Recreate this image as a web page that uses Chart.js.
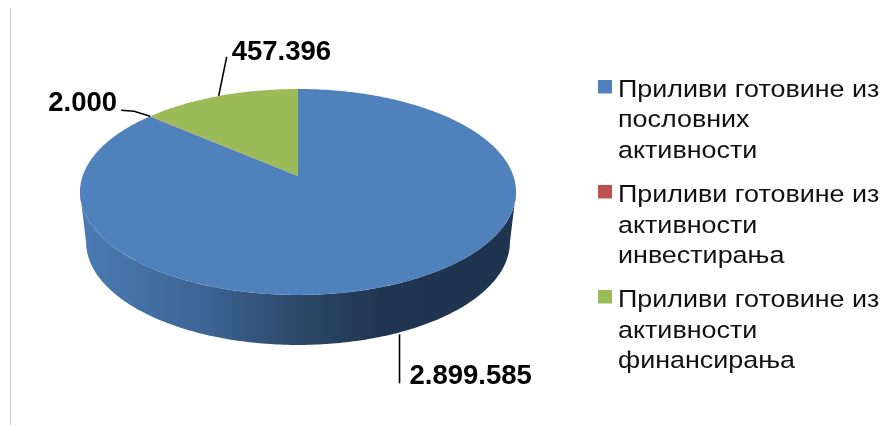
<!DOCTYPE html>
<html><head><meta charset="utf-8">
<style>html,body{margin:0;padding:0;background:#fff}canvas{display:block}</style>
<script src="https://cdn.jsdelivr.net/npm/chart.js@4"></script>
</head><body><canvas id="c" width="883" height="425"></canvas>
<script>
const categories = [
  ["Приливи готовине из","пословних","активности"],
  ["Приливи готовине из","активности","инвестирања"],
  ["Приливи готовине из","активности","финансирања"]
];
const values = [2899585, 2000, 457396];
const sliceColors = ["#4f81bd","#c0504d","#9bbb59"];

const FONT = '"Liberation Sans", Arial, sans-serif';
// Projective mapping of the library's unit circle onto the tilted pie
const P = {cx:298, cy:176, A:215.4, B:100.5, k:0.155, depth:50, bottomScale:0.972};
function project(angle, lower){
  // Chart.js angles: 0 = east, clockwise on screen, start at -PI/2
  const u = Math.cos(angle), v = -Math.sin(angle), w = 1 + P.k*v;
  const s = lower ? P.bottomScale : 1;
  return {x:P.cx + s*P.A*u/w, y:P.cy - P.B*v/w + (lower?P.depth:0)};
}
function fmt(n){return String(n).replace(/\B(?=(\d{3})+$)/g,'.');}

const labelLayouts = [
  {dx:0, dy:2, lower:true, path:[[0,49]], tx:10, ty:50},
  {dx:0, dy:0, lower:false, path:[[-16,-5],[-29,-6]], tx:-33, ty:-5},
  {dx:-1, dy:0, lower:false, path:[[8,-39]], tx:13, ty:-36}
];
const legendLayout = {x:598, box:14, textX:618, lineH:30.5, stretch:1.098, firstBase:[96.5,202,307]};

const pie3d = {
  id:'pie3d',
  beforeDatasetsDraw(chart){
    const ctx = chart.ctx, arcs = chart.getDatasetMeta(0).data;
    ctx.save();
    // frame line at the left
    ctx.fillStyle='#c6c6c6'; ctx.fillRect(10,8,1,417);
    // side wall (front half of the rim, between the two silhouette points)
    const g = ctx.createLinearGradient(80,0,516,0);
    g.addColorStop(0,'#4a7bb3'); g.addColorStop(0.28,'#3d6595');
    g.addColorStop(0.5,'#2d4868'); g.addColorStop(0.7,'#20354f'); g.addColorStop(1,'#1f344e');
    const e = Math.asin(P.k), span = Math.PI-2*e;
    ctx.beginPath();
    const N=200;
    for(let i=0;i<=N;i++){const p=project(e+span*i/N,false); i?ctx.lineTo(p.x,p.y):ctx.moveTo(p.x,p.y);}
    for(let i=N;i>=0;i--){const p=project(e+span*i/N,true); ctx.lineTo(p.x,p.y);}
    ctx.closePath(); ctx.fillStyle=g; ctx.fill();
    // top faces, from the library's arc angles
    arcs.forEach((arc,i)=>{
      const {startAngle,endAngle}=arc.getProps(['startAngle','endAngle'],true);
      ctx.beginPath(); ctx.moveTo(P.cx,P.cy);
      const n=Math.max(2,Math.ceil((endAngle-startAngle)*60));
      for(let j=0;j<=n;j++){const p=project(startAngle+(endAngle-startAngle)*j/n,false); ctx.lineTo(p.x,p.y);}
      ctx.closePath(); ctx.fillStyle=sliceColors[i]; ctx.fill();
    });
    // leaders and labels
    ctx.lineWidth=1.6; ctx.strokeStyle='#000'; ctx.fillStyle='#000';
    ctx.font='bold 27.5px '+FONT; ctx.textBaseline='alphabetic';
    arcs.forEach((arc,i)=>{
      const {startAngle,endAngle}=arc.getProps(['startAngle','endAngle'],true);
      const L=labelLayouts[i], a=project((startAngle+endAngle)/2,L.lower);
      const x=a.x+L.dx, y=a.y+L.dy;
      ctx.beginPath(); ctx.moveTo(x,y);
      L.path.forEach(q=>ctx.lineTo(x+q[0],y+q[1])); ctx.stroke();
      ctx.textAlign = L.tx<0 ? 'right' : 'left';
      ctx.fillText(fmt(values[i]),x+L.tx,y+L.ty);
    });
    // legend
    ctx.textAlign='left'; ctx.font='24.5px '+FONT;
    categories.forEach((lines,i)=>{
      const b=legendLayout.firstBase[i];
      ctx.fillStyle=sliceColors[i];
      ctx.fillRect(legendLayout.x,Math.round(b-16.7),legendLayout.box,legendLayout.box-0.5);
      ctx.fillStyle='#111';
      lines.forEach((s,j)=>{
        ctx.save();
        ctx.translate(legendLayout.textX,b+j*legendLayout.lineH);
        ctx.scale(legendLayout.stretch,1);
        ctx.fillText(s,0,0);
        ctx.restore();
      });
    });
    ctx.restore();
    return false;
  }
};
new Chart(document.getElementById('c'),{
  type:'pie',
  data:{labels:categories.map(l=>l.join(' ')),datasets:[{data:values,backgroundColor:sliceColors,borderWidth:0}]},
  options:{responsive:false,animation:false,plugins:{legend:{display:false},tooltip:{enabled:false}}},
  plugins:[pie3d]
});
</script></body></html>
